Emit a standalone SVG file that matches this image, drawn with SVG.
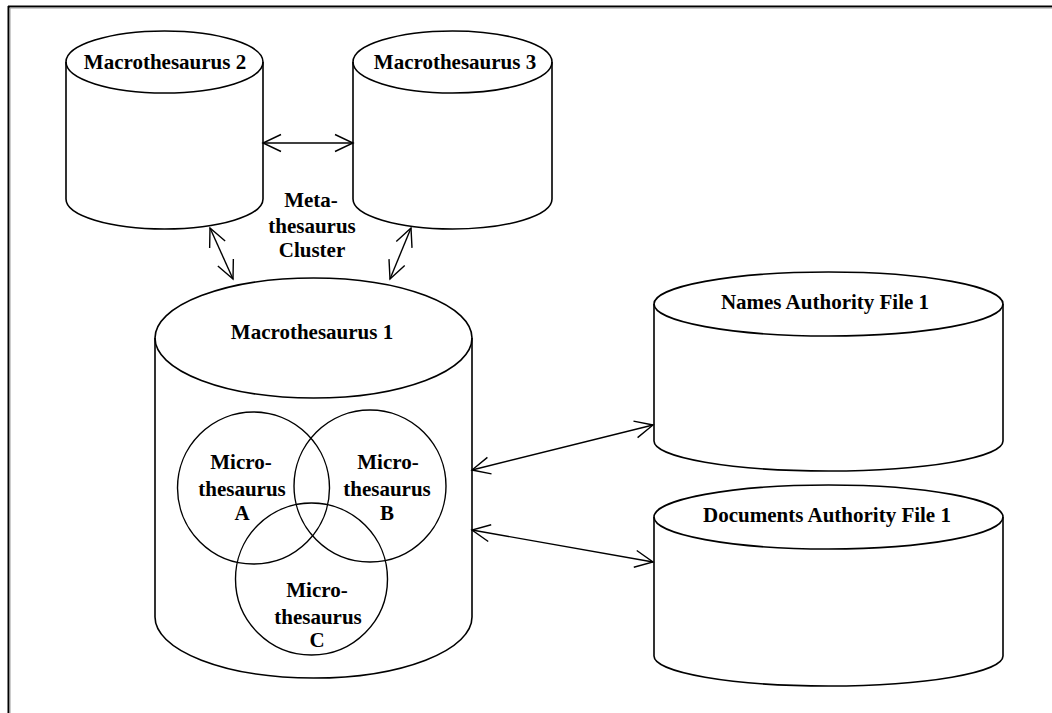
<svg xmlns="http://www.w3.org/2000/svg" width="1052" height="713" viewBox="0 0 1052 713">
<style>
.s{fill:none;stroke:#000;stroke-width:1.6}
.c{fill:none;stroke:#000;stroke-width:1.4}
.t{font-family:"Liberation Serif","Times New Roman",serif;font-weight:bold;font-size:21px;fill:#000;text-anchor:middle}
.a{fill:none;stroke:#000;stroke-width:1.4}
</style>
<defs>
<marker id="arr" viewBox="-20 -10 22 20" refX="0" refY="0" markerUnits="userSpaceOnUse" markerWidth="22" markerHeight="20" orient="auto-start-reverse">
<path d="M-18,-8.5 L0,0 L-18,8.5" fill="none" stroke="#000" stroke-width="1.4"/>
</marker>
</defs>
<rect width="1052" height="713" fill="#fff"/>
<g id="frame">
<line x1="8" y1="6.5" x2="1052" y2="6.5" stroke="#000" stroke-width="2"/>
<line x1="10" y1="8" x2="1052" y2="8" stroke="#999" stroke-width="1"/>
<line x1="8.5" y1="6" x2="8.5" y2="713" stroke="#000" stroke-width="2"/>
<line x1="10" y1="8" x2="10" y2="713" stroke="#999" stroke-width="1"/>
</g>
<g id="macro2">
<ellipse class="s" cx="164.5" cy="62" rx="98.5" ry="31"/>
<path class="s" d="M66,62 V199 A98.5,30 0 0 0 263,199 V62"/>
<text class="t" x="165" y="69">Macrothesaurus 2</text>
</g>
<g id="macro3">
<ellipse class="s" cx="452.5" cy="62" rx="99.5" ry="31"/>
<path class="s" d="M353,62 V199 A99.5,30 0 0 0 552,199 V62"/>
<text class="t" x="455" y="69">Macrothesaurus 3</text>
</g>
<g id="cluster-label">
<text class="t" x="311" y="207">Meta-</text>
<text class="t" x="312" y="233">thesaurus</text>
<text class="t" x="312" y="257">Cluster</text>
</g>
<g id="macro1">
<ellipse class="s" cx="313.5" cy="338" rx="158.5" ry="60"/>
<path class="s" d="M155,338 V617 A158.5,61 0 0 0 472,617 V338"/>
<text class="t" x="312" y="339">Macrothesaurus 1</text>
</g>
<g id="microA">
<circle class="c" cx="253.5" cy="488" r="76"/>
<text class="t" x="241" y="469">Micro-</text>
<text class="t" x="242" y="496">thesaurus</text>
<text class="t" x="242" y="520">A</text>
</g>
<g id="microB">
<circle class="c" cx="370" cy="486" r="76"/>
<text class="t" x="388" y="469">Micro-</text>
<text class="t" x="387" y="496">thesaurus</text>
<text class="t" x="387" y="520">B</text>
</g>
<g id="microC">
<circle class="c" cx="311.5" cy="579" r="76"/>
<text class="t" x="317" y="597">Micro-</text>
<text class="t" x="318" y="624">thesaurus</text>
<text class="t" x="317" y="647">C</text>
</g>
<g id="names">
<ellipse class="s" cx="828.5" cy="304" rx="174.5" ry="32"/>
<path class="s" d="M654,304 V441 A174.5,30 0 0 0 1003,441 V304"/>
<text class="t" x="825" y="309">Names Authority File 1</text>
</g>
<g id="documents">
<ellipse class="s" cx="828.5" cy="517" rx="174.5" ry="32"/>
<path class="s" d="M654,517 V656 A174.5,30 0 0 0 1003,656 V517"/>
<text class="t" x="827" y="522">Documents Authority File 1</text>
</g>
<g id="connectors">
<line class="a" x1="263" y1="143" x2="353" y2="143" marker-start="url(#arr)" marker-end="url(#arr)"/>
<line class="a" x1="210" y1="228" x2="233" y2="279" marker-start="url(#arr)" marker-end="url(#arr)"/>
<line class="a" x1="411" y1="228" x2="390" y2="279" marker-start="url(#arr)" marker-end="url(#arr)"/>
<line class="a" x1="472" y1="470" x2="653" y2="425" marker-start="url(#arr)" marker-end="url(#arr)"/>
<line class="a" x1="472" y1="530" x2="653" y2="562" marker-start="url(#arr)" marker-end="url(#arr)"/>
</g>
</svg>
